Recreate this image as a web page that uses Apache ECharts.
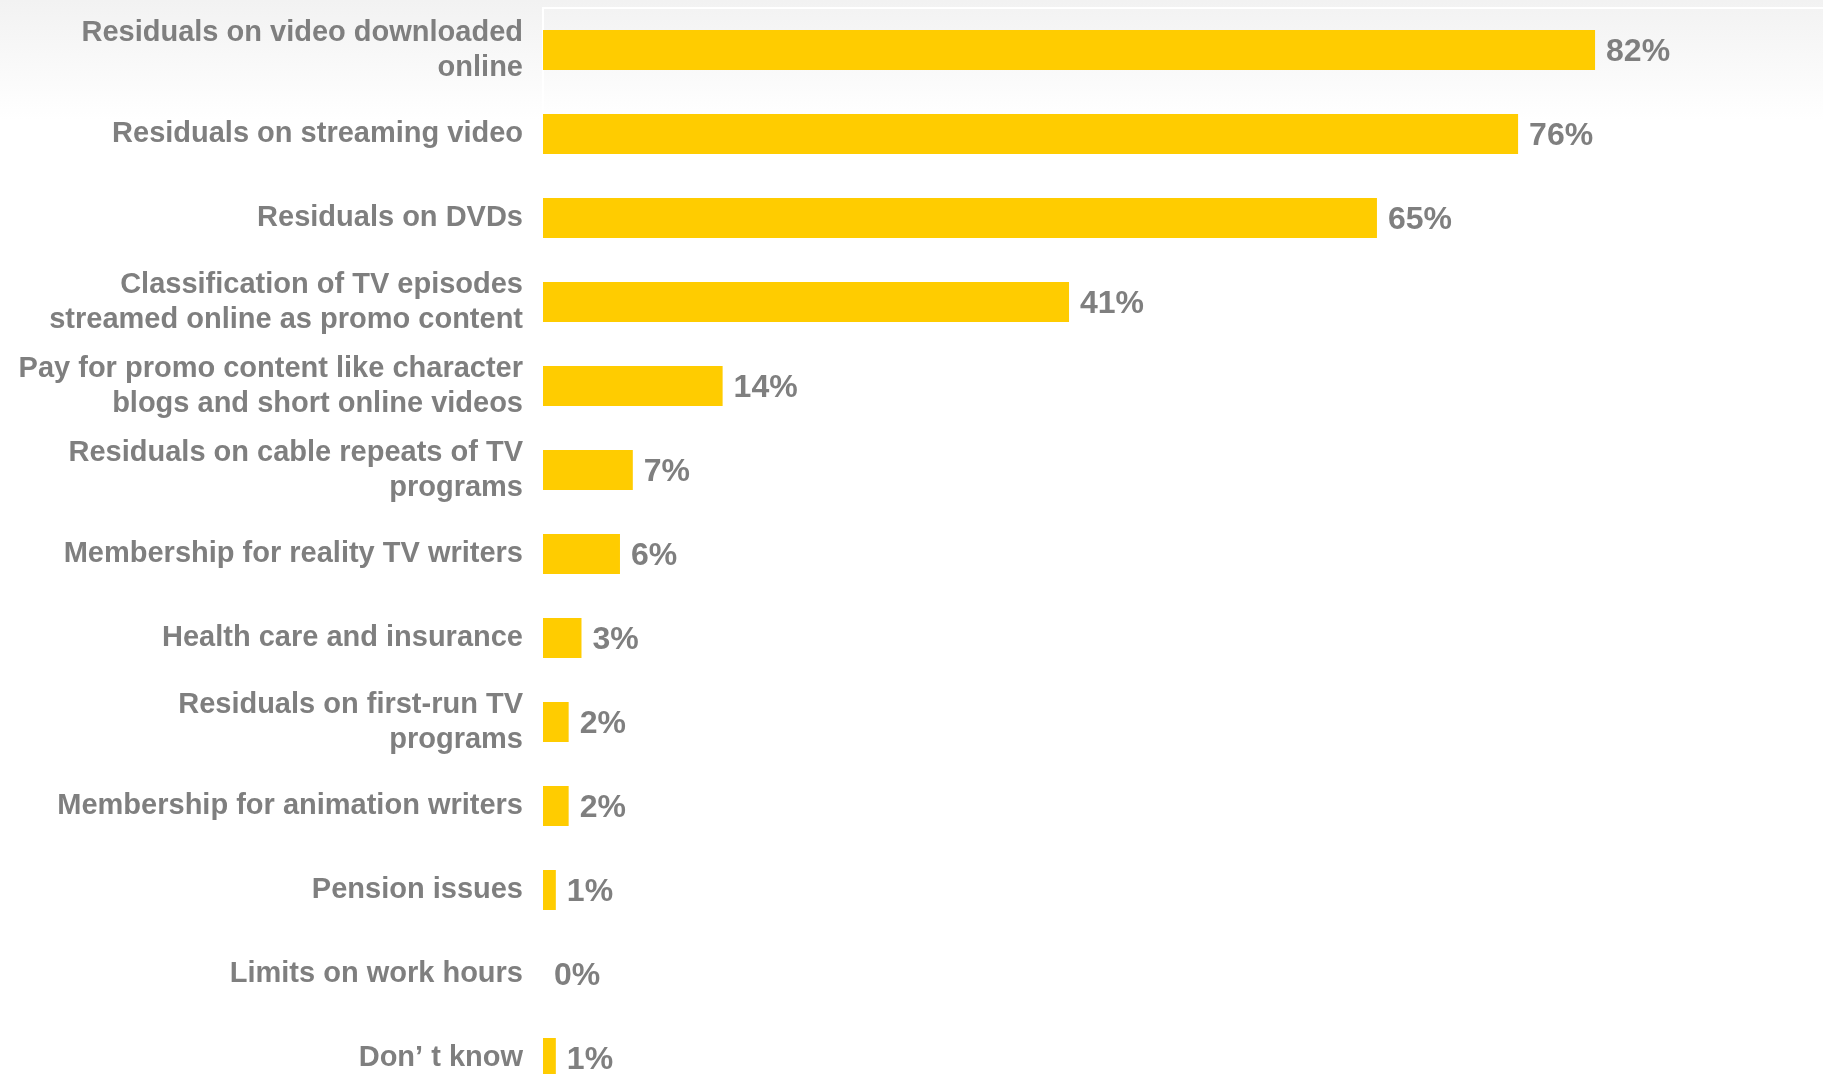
<!DOCTYPE html>
<html>
<head>
<meta charset="utf-8">
<script src="https://cdn.jsdelivr.net/npm/echarts@6/dist/echarts.min.js"></script>
<style>
html,body{margin:0;padding:0;background:#fff;overflow:hidden;}
#chart{width:1830px;height:1100px;}
</style>
</head>
<body>
<div id="chart"></div>
<script>
const categories = [
  "Residuals on video downloaded\nonline",
  "Residuals on streaming video",
  "Residuals on DVDs",
  "Classification of TV episodes\nstreamed online as promo content",
  "Pay for promo content like character\nblogs and short online videos",
  "Residuals on cable repeats of TV\nprograms",
  "Membership for reality TV writers",
  "Health care and insurance",
  "Residuals on first-run TV\nprograms",
  "Membership for animation writers",
  "Pension issues",
  "Limits on work hours",
  "Don\u2019 t know"
];
const values = [82, 76, 65, 41, 14, 7, 6, 3, 2, 2, 1, 0, 1];

const chart = echarts.init(document.getElementById('chart'), null, {renderer: 'canvas'});
const gray = '#7f7f7f';
chart.setOption({
  animation: false,
  backgroundColor: '#ffffff',
  graphic: [{
    type: 'rect',
    z: -10,
    silent: true,
    shape: {x: 0, y: 0, width: 1830, height: 200},
    style: {
      fill: {
        type: 'linear', x: 0, y: 0, x2: 0, y2: 1,
        colorStops: [{offset: 0, color: '#f2f2f2'}, {offset: 0.6, color: '#ffffff'}, {offset: 1, color: '#ffffff'}]
      }
    }
  }],
  grid: {
    left: 543, top: 8, width: 1283, height: 1092,
    show: true, borderColor: '#ffffff', borderWidth: 2, backgroundColor: 'transparent',
    containLabel: false
  },
  xAxis: {
    type: 'value', min: 0, max: 100, show: false,
    splitLine: {show: false}
  },
  yAxis: {
    type: 'category', inverse: true, data: categories,
    axisLine: {show: false}, axisTick: {show: false}, splitLine: {show: false},
    axisLabel: {
      margin: 20, color: gray, fontFamily: '"Liberation Sans", Arial, sans-serif',
      fontWeight: 'bold', fontSize: 29, lineHeight: 35, align: 'right',
      padding: [2, 0, 0, 0]
    }
  },
  series: [{
    type: 'bar', data: values, barWidth: 40,
    itemStyle: {color: '#ffcc00'},
    label: {
      show: true, position: 'right', distance: 11, offset: [0, 2],
      formatter: '{c}%', color: gray,
      fontFamily: '"Liberation Sans", Arial, sans-serif', fontWeight: 'bold', fontSize: 32
    }
  }]
});
</script>
</body>
</html>
